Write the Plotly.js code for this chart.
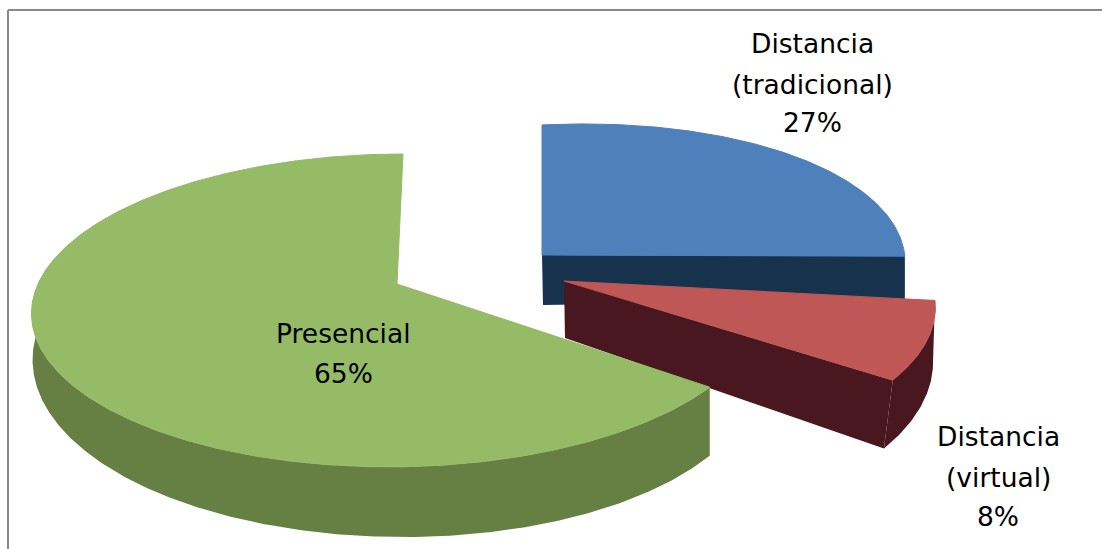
<!DOCTYPE html>
<html><head><meta charset="utf-8">
<script src="https://cdn.plot.ly/plotly-3.0.1.min.js"></script>
<style>html,body{margin:0;padding:0;background:#fff}#c{width:1102px;height:549px}</style>
</head><body><div id="c"></div>
<script>
// Data
const categories = ["Distancia (tradicional)", "Distancia (virtual)", "Presencial"];
const values = [27, 8, 65];
const labelLines = [["Distancia", "(tradicional)"], ["Distancia", "(virtual)"], ["Presencial"]];

// Styles
const topColors  = ["#4E80BB", "#BE5755", "#95BB67"];
const wallColors = ["#17324D", "#48171F", "#668044"];
const apexX = [542, 564, 397];
const apexY = [255, 281, 284];
const radiusX = [358, 366, 359];
const shearX = [0, 0, -7];
const shearY = [-18, 0, 0];
const apexDepth = [50, 57, 50];
const startTrim = [0, 0, 1.5];
const wallStart = [96, 97, 127.5];
const wallEnd = [97, 126, 280];
const labelX = [812, 998, 343];
const labelY = [[43, 84, 122], [436, 477, 516], [333, 373]];

// Tilted, perspective view of the pie plane
const B = 152, K = -0.169;
function proj(i, deg) {
  const t = deg * Math.PI / 180, X = Math.sin(t), Y = -Math.cos(t), w = 1 + K * Y;
  return {X, Y,
    x: apexX[i] + (radiusX[i] * X + shearX[i] * Y) / w,
    y: apexY[i] + (B * Y + shearY[i] * X) / w};
}
function bottom(i, p) {
  let dx = 0, dy = 50 + 20 * p.Y + 8 * p.X;
  if (i === 0) dy = 50 - 6 * Math.max(p.X, 0);
  if (i === 1) { dx = -15 * p.Y; }
  if (i === 2) { dx = 0.5 - 0.6 * p.X; }
  return {x: p.x + dx, y: p.y + dy};
}
function arc(i, a0, a1) {
  const pts = [], n = Math.ceil(Math.abs(a1 - a0) * 2);
  for (let j = 0; j <= n; j++) pts.push(proj(i, a0 + (a1 - a0) * j / n));
  return pts;
}

const total = values.reduce((a, b) => a + b, 0);
let cum = 0;
const traces = [], annotations = [];
values.forEach((v, i) => {
  const a0 = cum / total * 360 + startTrim[i], a1 = (cum + v) / total * 360;
  cum += v;
  const top = arc(i, a0, a1);
  const wallTop = arc(i, wallStart[i], wallEnd[i]);
  const bot = wallTop.map(p => bottom(i, p));
  const shape = (xs, ys, color, lw) => traces.push({
    type: "scatter", mode: "lines", x: xs.concat(xs[0]), y: ys.concat(ys[0]),
    fill: "toself", fillcolor: color, line: {color: color, width: lw},
    hoverinfo: "skip", showlegend: false, name: categories[i]});
  // outer wall
  shape(wallTop.map(p => p.x).concat(bot.map(p => p.x).reverse()),
        wallTop.map(p => p.y).concat(bot.map(p => p.y).reverse()), wallColors[i], 0);
  // cut face towards the viewer
  if (i < 2) {
    const e = wallTop[wallTop.length - 1], eb = bot[bot.length - 1];
    const ax = apexX[i], ay = apexY[i];
    shape([ax, e.x, eb.x, ax + 1], [ay, e.y, eb.y, ay + apexDepth[i]], wallColors[i], 0);
  }
  // top face
  shape([apexX[i]].concat(top.map(p => p.x)), [apexY[i]].concat(top.map(p => p.y)), topColors[i], 1);
  // labels
  labelLines[i].concat(v + "%").forEach((txt, k) => annotations.push({
    x: labelX[i], y: labelY[i][k], xref: "x", yref: "y", text: txt, showarrow: false,
    xanchor: "center", yanchor: "middle",
    font: {family: "'DejaVu Sans',sans-serif", size: 26.5, color: "#000"}}));
});

const frame = {color: "#8a8a8a", width: 2};
const layout = {
  width: 1102, height: 549, margin: {l: 0, r: 0, t: 0, b: 0},
  paper_bgcolor: "#fff", plot_bgcolor: "#fff", showlegend: false,
  xaxis: {range: [0, 1102], visible: false, fixedrange: true},
  yaxis: {range: [549, 0], visible: false, fixedrange: true},
  annotations,
  shapes: [
    {type: "line", xref: "x", yref: "y", x0: 8, x1: 1102, y0: 10, y1: 10, line: frame},
    {type: "line", xref: "x", yref: "y", x0: 8, x1: 8, y0: 10, y1: 549, line: frame}
  ]
};
Plotly.newPlot("c", traces, layout, {displayModeBar: false, responsive: false});
</script></body></html>
